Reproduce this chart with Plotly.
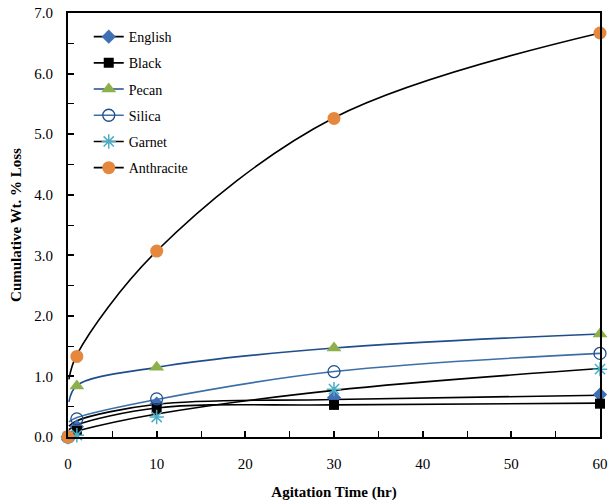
import plotly.graph_objects as go

# ---- data ----
time_hr = [0, 1, 10, 30, 60]

english = [0.00, 0.17, 0.55, 0.65, 0.70]
black = [0.00, 0.10, 0.47, 0.53, 0.55]
pecan = [0.00, 0.84, 1.15, 1.47, 1.70]
silica = [0.00, 0.30, 0.63, 1.08, 1.38]
garnet = [0.00, 0.03, 0.33, 0.79, 1.12]
anthracite = [0.00, 1.33, 3.07, 5.26, 6.67]

# trend (fitted) curves as drawn in the reference
trend_x = [0.1, 1, 10, 30, 60]
english_trend = [0.18, 0.27, 0.54, 0.62, 0.69]
black_trend = [0.12, 0.20, 0.48, 0.53, 0.56]
pecan_trend = [0.58, 0.85, 1.15, 1.47, 1.70]
silica_trend = [0.25, 0.32, 0.62, 1.08, 1.38]
garnet_trend = [0.06, 0.10, 0.38, 0.77, 1.13]
anthracite_trend = [0.95, 1.36, 3.07, 5.27, 6.67]

names = ["English", "Black", "Pecan", "Silica", "Garnet", "Anthracite"]
x_ticks = [0, 10, 20, 30, 40, 50, 60]
y_ticks = [0, 1, 2, 3, 4, 5, 6, 7]

series = [
    (names[0], english, english_trend, dict(symbol="diamond", size=11, color="#3F6FB5",
                                           line=dict(width=0)), "#000000"),
    (names[1], black, black_trend, dict(symbol="square", size=10, color="#000000",
                                       line=dict(width=0)), "#000000"),
    (names[2], pecan, pecan_trend, dict(symbol="triangle-up", size=13, color="#8DB04A",
                                       line=dict(width=0)), "#1F4E8C"),
    (names[3], silica, silica_trend, dict(symbol="circle-open", size=12, color="#1F4E8C",
                                         line=dict(width=1.3)), "#3C6FA8"),
    (names[4], garnet, garnet_trend, dict(symbol="asterisk-open", size=12, color="#4BACC6",
                                         line=dict(width=1.5, color="#4BACC6")), "#000000"),
    (names[5], anthracite, anthracite_trend, dict(symbol="circle", size=13, color="#E5873D",
                                                 line=dict(width=0)), "#000000"),
]

serif = "Liberation Serif"

fig = go.Figure()

# trend lines
for name, vals, trend, mk, lc in series:
    fig.add_trace(go.Scatter(x=trend_x, y=trend, mode="lines",
                             line=dict(color=lc, width=1.6, shape="spline", smoothing=1.0),
                             showlegend=False, hoverinfo="skip", legendgroup=name))
# markers
for name, vals, trend, mk, lc in series:
    fig.add_trace(go.Scatter(x=time_hr, y=vals, mode="markers", marker=mk,
                             showlegend=False, name=name, cliponaxis=False, legendgroup=name))
# legend entries
for name, vals, trend, mk, lc in series:
    fig.add_trace(go.Scatter(x=[None], y=[None], mode="lines+markers", marker=mk,
                             line=dict(color=lc, width=1.6), name=name, legendgroup=name))

fig.update_layout(
    width=608, height=501,
    margin=dict(l=68, r=8, t=13, b=64),
    paper_bgcolor="white", plot_bgcolor="white",
    font=dict(family=serif, size=14, color="#000000"),
    showlegend=True,
    legend=dict(x=0.039, y=0.981, xanchor="left", yanchor="top",
                font=dict(family=serif, size=14, color="#000000"),
                bgcolor="rgba(0,0,0,0)", tracegroupgap=5, itemwidth=30),
    xaxis=dict(range=[0, 60], tickvals=x_ticks, ticks="inside", ticklen=6, tickwidth=1.5,
               tickcolor="#000000", automargin=False, ticklabeloverflow="allow",
               ticklabelstandoff=12,
               minor=dict(dtick=5, ticks="inside", ticklen=6, tickwidth=1.2, tickcolor="#000000",
                          showgrid=False),
               showline=True, linecolor="#000000", linewidth=2, mirror=True,
               showgrid=False, zeroline=False,
               tickfont=dict(family=serif, size=15),
               title=dict(text="<b>Agitation Time (hr)</b>", font=dict(family=serif, size=15),
                          standoff=17)),
    yaxis=dict(range=[0, 7], tickvals=y_ticks, tickformat=".1f", ticks="inside", ticklen=6,
               tickwidth=1.5, tickcolor="#000000", automargin=False, ticklabeloverflow="allow",
               ticklabelstandoff=10,
               minor=dict(dtick=0.5, ticks="inside", ticklen=6, tickwidth=1.2,
                          tickcolor="#000000", showgrid=False),
               showline=True, linecolor="#000000", linewidth=2, mirror=True,
               showgrid=False, zeroline=False,
               tickfont=dict(family=serif, size=15),
               title=dict(text="<b>Cumulative Wt. % Loss</b>", font=dict(family=serif, size=15),
                          standoff=9)),
)

# remove the default page margin so the figure fills the window
fig.write_html("out.html", config={"displayModeBar": False},
               post_script="document.body.style.margin='0';document.body.style.overflow='hidden';")
